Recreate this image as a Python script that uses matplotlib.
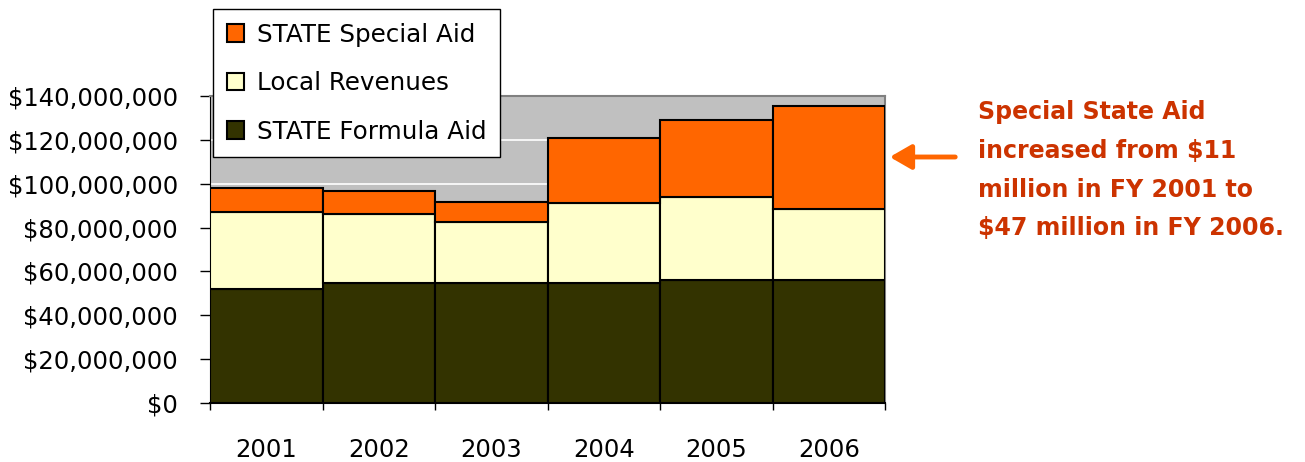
import matplotlib
matplotlib.use("Agg")
import matplotlib.pyplot as plt
import numpy as np
from matplotlib.ticker import FuncFormatter, FixedLocator

years = ["2001", "2002", "2003", "2004", "2005", "2006"]
formula_aid = [52.2e6, 54.9e6, 54.9e6, 54.9e6, 56.0e6, 56.0e6]
local_rev = [35.1e6, 31.5e6, 27.8e6, 36.2e6, 37.8e6, 32.3e6]
special_aid = [10.7e6, 10.1e6, 9.1e6, 29.6e6, 35.1e6, 47.0e6]

plt.rcParams['font.family'] = ['DejaVu Sans']

W, H = 1305, 462
fig = plt.figure(figsize=(W / 100, H / 100), dpi=100)
ax = fig.add_axes([210 / W, 1 - 403 / H, (885 - 210) / W, (403 - 96) / H])
ax.set_facecolor('#C0C0C0')

x = np.arange(len(years))
f = np.array(formula_aid)
l = np.array(local_rev)
s = np.array(special_aid)
b1 = ax.bar(x, f, width=1.0, color='#333300', edgecolor='black', linewidth=1.5, zorder=3, label='STATE Formula Aid')
b2 = ax.bar(x, l, width=1.0, bottom=f, color='#FFFFCC', edgecolor='black', linewidth=1.5, zorder=3, label='Local Revenues')
b3 = ax.bar(x, s, width=1.0, bottom=f + l, color='#FF6600', edgecolor='black', linewidth=1.5, zorder=3, label='STATE Special Aid')

ax.set_xlim(-0.5, len(years) - 0.5)
ax.set_ylim(0, 140e6)
ax.set_yticks(np.arange(0, 140e6 + 1, 20e6))
ax.yaxis.set_major_formatter(FuncFormatter(lambda v, p: "${:,.0f}".format(v)))
ax.grid(axis='y', color='white', linewidth=1.2, zorder=1)
ax.set_axisbelow(True)

ax.set_xticks(x)
ax.set_xticklabels(years)
ax.xaxis.set_minor_locator(FixedLocator(np.arange(-0.5, len(years), 1.0)))
ax.tick_params(axis='x', which='major', length=0, pad=25, labelsize=17.5)
ax.tick_params(axis='x', which='minor', length=5, width=1, color='black', direction='out')
ax.tick_params(axis='y', which='major', length=7, width=1, pad=16, labelsize=17.5, direction='out')

for sp in ['top', 'right']:
    ax.spines[sp].set_color('#808080')
    ax.spines[sp].set_linewidth(1.5)
ax.spines['left'].set_color('black')
ax.spines['bottom'].set_color('black')
ax.spines['bottom'].set_linewidth(1.5)

leg = fig.legend(handles=[b3, b2, b1], loc='upper left',
                 bbox_to_anchor=(213 / W, 1 - 9 / H), fontsize=17.7,
                 frameon=True, fancybox=False, edgecolor='black', framealpha=1,
                 labelspacing=1.0, handlelength=0.72, handleheight=0.72,
                 handletextpad=0.5, borderpad=0.55, borderaxespad=0)
leg.get_frame().set_linewidth(1.0)
leg.set_zorder(10)

fig.text(978 / W, 1 - 100 / H,
         "Special State Aid\nincreased from $11\nmillion in FY 2001 to\n$47 million in FY 2006.",
         fontsize=17, fontweight='bold', color='#CC3300', ha='left', va='top',
         linespacing=1.78)

fig.patches.append(matplotlib.patches.FancyArrowPatch(
    (958 / W, 1 - 157 / H), (887 / W, 1 - 157 / H), transform=fig.transFigure,
    arrowstyle='-|>,head_length=13,head_width=7.5', color='#FF6600', linewidth=3.5,
    mutation_scale=1))

fig.savefig('out.png', dpi=100)
